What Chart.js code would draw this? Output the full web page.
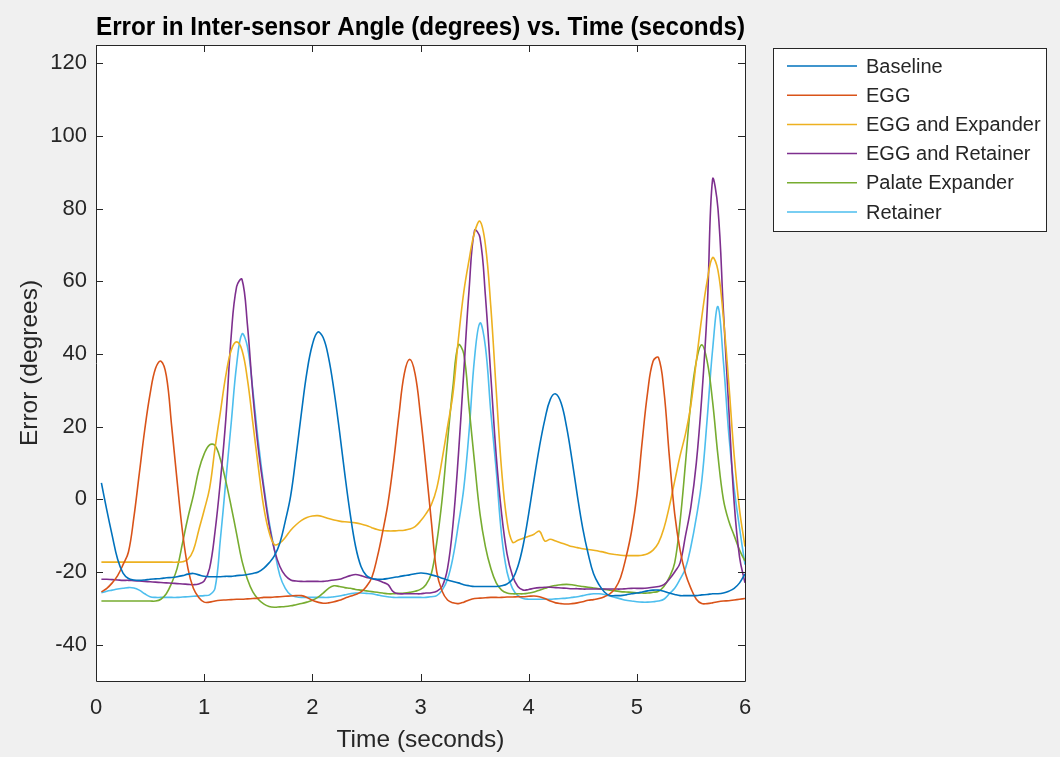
<!DOCTYPE html>
<html>
<head>
<meta charset="utf-8">
<title>Error in Inter-sensor Angle</title>
<script src="https://cdn.jsdelivr.net/npm/chart.js@4.4.1/dist/chart.umd.min.js"></script>
<style>
  html, body { margin: 0; padding: 0; background: #f0f0f0; }
  #chart { display: block; }
</style>
</head>
<body>
<canvas id="chart" width="1060" height="757"></canvas>
<script>
// sample times (seconds)
const time = [
  0.05, 0.10, 0.15, 0.20, 0.25, 0.30, 0.35, 0.40, 0.45, 0.50,
  0.55, 0.60, 0.65, 0.70, 0.75, 0.80, 0.85, 0.90, 0.95, 1.00,
  1.05, 1.10, 1.15, 1.20, 1.25, 1.30, 1.35, 1.40, 1.45, 1.50,
  1.55, 1.60, 1.65, 1.70, 1.75, 1.80, 1.85, 1.90, 1.95, 2.00,
  2.05, 2.10, 2.15, 2.20, 2.25, 2.30, 2.35, 2.40, 2.45, 2.50,
  2.55, 2.60, 2.65, 2.70, 2.75, 2.80, 2.85, 2.90, 2.95, 3.00,
  3.05, 3.10, 3.15, 3.20, 3.25, 3.30, 3.35, 3.40, 3.45, 3.50,
  3.55, 3.60, 3.65, 3.70, 3.75, 3.80, 3.85, 3.90, 3.95, 4.00,
  4.05, 4.10, 4.15, 4.20, 4.25, 4.30, 4.35, 4.40, 4.45, 4.50,
  4.55, 4.60, 4.65, 4.70, 4.75, 4.80, 4.85, 4.90, 4.95, 5.00,
  5.05, 5.10, 5.15, 5.20, 5.25, 5.30, 5.35, 5.40, 5.45, 5.50,
  5.55, 5.60, 5.65, 5.70, 5.75, 5.80, 5.85, 5.90, 5.95, 6.00
];

// error in degrees for each condition
const baseline = [
  4.5, -3, -10, -16.5, -20.3, -21.8, -22.2, -22.3, -22.2, -22,
  -21.9, -21.8, -21.6, -21.5, -21.3, -21, -20.6, -20.4, -20.8, -21.2,
  -21.3, -21.3, -21.3, -21.2, -21.2, -21, -20.9, -20.7, -20.4, -20,
  -19, -17.5, -15.5, -12, -6, 1, 12, 24, 35, 42.5,
  46, 44.5, 39, 30, 19, 7, -4, -13, -18.5, -21,
  -21.8, -22, -22, -21.8, -21.5, -21.3, -21, -20.8, -20.5, -20.3,
  -20.4, -20.8, -21.2, -21.7, -22.2, -22.6, -23, -23.5, -23.8, -24,
  -24, -24, -24, -24, -23.8, -23.3, -22, -18.5, -12.5, -4,
  5.5, 14.5, 22, 27.5, 29, 26.5, 20, 11, 1, -8,
  -15, -20.5, -23.5, -25.5, -26.5, -26.5, -26.5, -26.3, -26, -25.8,
  -25.5, -25.2, -25, -25, -25.3, -25.8, -26.2, -26.5, -26.5, -26.5,
  -26.5, -26.3, -26.2, -26, -26, -25.8, -25.3, -24.5, -23, -20.5
];
const egg = [
  -25.5, -24.5, -23, -21, -18, -14.5, -5, 7, 19, 29,
  36, 38, 34, 20, 5, -9, -19, -24.5, -27, -28.3,
  -28.3, -28, -27.8, -27.7, -27.6, -27.5, -27.5, -27.4, -27.3, -27.2,
  -27, -27, -26.9, -26.8, -26.7, -26.6, -26.5, -26.5, -27, -27.8,
  -28.3, -28.6, -28.5, -28.2, -27.8, -27.2, -26.7, -26.2, -25.5, -24,
  -21.5, -16, -9, -1, 10, 23, 34.5, 38.5, 34.5, 23,
  9, -6, -20, -25.3, -27.7, -28.5, -28.7, -28.3, -27.7, -27.3,
  -27.2, -27.1, -27, -27, -27, -26.9, -26.9, -26.8, -26.8, -26.7,
  -26.6, -26.8, -27.3, -28, -28.5, -28.7, -28.8, -28.7, -28.5, -28.2,
  -27.8, -27.6, -27.3, -26.8, -26, -24.5, -21.5, -16, -9, 1,
  16, 29.5, 38, 39, 30, 12, -4, -14, -20.5, -24.5,
  -27.5, -28.7, -28.7, -28.5, -28.2, -28, -27.9, -27.7, -27.5, -27.3
];
const eggExpander = [
  -17.3, -17.3, -17.3, -17.3, -17.3, -17.3, -17.3, -17.3, -17.3, -17.3,
  -17.3, -17.3, -17.3, -17.3, -17.3, -17.2, -16.5, -14, -8.5, -3,
  3, 14, 24, 34, 41, 43.3, 41, 33, 21, 9,
  -2, -9, -12.5, -12, -10.5, -8.5, -7, -5.8, -5, -4.6,
  -4.5, -4.8, -5.3, -5.7, -6, -6.2, -6.3, -6.5, -6.8, -7.2,
  -7.8, -8.3, -8.6, -8.7, -8.7, -8.6, -8.5, -8.2, -7.5, -6,
  -4, -1.5, 3, 11, 20, 29, 44, 57, 66, 73.5,
  76.5, 70, 53, 30, 8, -6, -11.8, -11.3, -10.7, -10.2,
  -9.6, -8.8, -11.5, -11, -11.5, -12, -12.5, -13, -13.3, -13.6,
  -13.8, -14, -14.3, -14.6, -15, -15.2, -15.4, -15.5, -15.5, -15.5,
  -15.4, -15, -14, -12, -8, -2, 5, 12, 18, 26,
  38, 50, 60, 66.5, 63, 50, 32, 12, -3, -13
];
const eggRetainer = [
  -22, -22, -22.1, -22.2, -22.3, -22.3, -22.4, -22.5, -22.6, -22.7,
  -22.8, -22.9, -23, -23.1, -23.2, -23.3, -23.4, -23.5, -23.3, -22.5,
  -19, -9, 5, 22, 45, 58.5, 60.5, 48, 29, 14,
  3, -7, -14, -18.5, -21, -22.2, -22.5, -22.6, -22.6, -22.6,
  -22.6, -22.6, -22.4, -22.2, -22, -21.5, -21, -20.7, -21, -21.5,
  -21.8, -22.2, -22.8, -23.5, -25.5, -26, -26, -26, -26, -26,
  -25.8, -25.7, -25.3, -24, -19, -7, 12, 35, 58, 74,
  72, 56, 34, 12, -4, -15, -21, -24, -25, -24.8,
  -24.5, -24.3, -24.2, -24.2, -24.3, -24.4, -24.5, -24.6, -24.6, -24.7,
  -24.7, -24.7, -24.7, -24.7, -24.7, -24.7, -24.7, -24.6, -24.5, -24.5,
  -24.5, -24.4, -24.2, -24, -23.5, -22, -20, -17.5, -10, -2,
  10, 28, 52, 88, 80, 52, 25, -1, -16, -23
];
const palateExpander = [
  -28, -28, -28, -28, -28, -28, -28, -28, -28, -28,
  -28, -27.5, -26, -23, -19, -12, -5, 1, 8, 12.5,
  15, 14.8, 11, 5, -2, -9.5, -17, -22, -25.5, -27.5,
  -28.8, -29.5, -29.7, -29.6, -29.5, -29.3, -29, -28.7, -28.3, -27.8,
  -27, -25.8, -24.5, -23.8, -24, -24.3, -24.5, -24.8, -25, -25.2,
  -25.4, -25.6, -25.8, -26, -26, -25.9, -25.8, -25.6, -25.3, -24.8,
  -23.5, -20.5, -12, 0, 16, 31, 42.5, 40, 25, 10,
  -4, -13, -19, -23, -25, -25.8, -26, -26, -26, -25.8,
  -25.5, -25, -24.5, -24, -23.7, -23.5, -23.4, -23.5, -23.8, -24,
  -24.2, -24.4, -24.6, -24.8, -25, -25.2, -25.4, -25.5, -25.6, -25.7,
  -25.8, -25.8, -25.6, -25.3, -24, -21.5, -17.5, -6, 10, 27,
  38, 42.5, 38, 27, 12, 0, -6, -10, -14, -17
];
const retainer = [
  -25.7, -25.3, -25, -24.7, -24.5, -24.3, -24.4, -25, -26, -26.8,
  -27, -27, -27, -27, -27, -26.9, -26.8, -26.7, -26.6, -26.5,
  -26.3, -24.5, -11, 5, 21, 37, 45.5, 42, 30, 16,
  4, -6, -14, -21, -24.5, -26.3, -26.8, -27, -27, -27,
  -27, -27, -27, -26.8, -26.6, -26.3, -26, -25.8, -25.8, -25.9,
  -26, -26.3, -26.6, -26.8, -27, -27, -27, -27, -27, -27,
  -27, -26.8, -26.5, -25, -22, -16, -7, 3, 19, 39,
  48.5, 42, 24, 8, -10, -20, -24.5, -26.5, -27.3, -27.5,
  -27.5, -27.5, -27.5, -27.5, -27.4, -27.3, -27.2, -27, -26.8, -26.5,
  -26.2, -26, -26, -26.2, -26.6, -27, -27.4, -27.8, -28, -28.2,
  -28.3, -28.3, -28.2, -28, -27.5, -26, -24.5, -22, -19, -13,
  -5, 5, 22, 41, 53, 38, 18, 3, -8, -18
];

const seriesNames = ["Baseline", "EGG", "EGG and Expander", "EGG and Retainer", "Palate Expander", "Retainer"];
const seriesValues = [baseline, egg, eggExpander, eggRetainer, palateExpander, retainer];
const seriesColors = ["#0072BD", "#D95319", "#EDB120", "#7E2F8E", "#77AC30", "#4DBEEE"];

const xTicks = [0, 1, 2, 3, 4, 5, 6];
const yTicks = [-40, -20, 0, 20, 40, 60, 80, 100, 120];

const FONT = "'Liberation Sans', Arial, Helvetica, sans-serif";
const AXIS_COLOR = "#262626";

// grey figure, white axes, boxed frame with inward ticks, boxed legend
const axesBox = {
    id: "axesBox",
    beforeDraw(chart) {
        const { ctx, chartArea: a } = chart;
        ctx.save();
        ctx.fillStyle = "#f0f0f0";
        ctx.fillRect(0, 0, chart.width, chart.height);
        ctx.fillStyle = "#ffffff";
        ctx.fillRect(a.left, a.top, a.right - a.left, a.bottom - a.top);
        ctx.restore();
    },
    afterDraw(chart) {
        const { ctx, chartArea: a, scales } = chart;
        const tick = 7;
        ctx.save();
        ctx.strokeStyle = AXIS_COLOR;
        ctx.lineWidth = 1;
        ctx.beginPath();
        ctx.rect(Math.round(a.left) + 0.5, Math.round(a.top) + 0.5,
                 Math.round(a.right - a.left), Math.round(a.bottom - a.top));
        xTicks.forEach(v => {
            const x = Math.round(scales.x.getPixelForValue(v)) + 0.5;
            ctx.moveTo(x, a.bottom); ctx.lineTo(x, a.bottom - tick);
            ctx.moveTo(x, a.top); ctx.lineTo(x, a.top + tick);
        });
        yTicks.forEach(v => {
            const y = Math.round(scales.y.getPixelForValue(v)) + 0.5;
            ctx.moveTo(a.left, y); ctx.lineTo(a.left + tick, y);
            ctx.moveTo(a.right, y); ctx.lineTo(a.right - tick, y);
        });
        ctx.stroke();

        // legend
        const lx = 773.5, ly = 48.5, lw = 273, lh = 183;
        ctx.fillStyle = "#ffffff";
        ctx.fillRect(lx, ly, lw, lh);
        ctx.strokeRect(lx, ly, lw, lh);
        ctx.font = "20px " + FONT;
        ctx.textBaseline = "middle";
        chart.data.datasets.forEach((ds, i) => {
            const y = 66 + i * 29.2;
            ctx.strokeStyle = ds.borderColor;
            ctx.lineWidth = 1.5;
            ctx.beginPath();
            ctx.moveTo(787, y); ctx.lineTo(857, y);
            ctx.stroke();
            ctx.fillStyle = AXIS_COLOR;
            ctx.fillText(ds.label, 866, y + 1);
        });
        ctx.restore();
    }
};

const datasets = seriesNames.map((name, i) => ({
    label: name,
    data: time.map((t, k) => ({ x: t, y: seriesValues[i][k] })),
    borderColor: seriesColors[i],
    borderWidth: 1.6,
    pointRadius: 0,
    fill: false,
    tension: 0.4
}));

new Chart(document.getElementById("chart"), {
    type: "line",
    data: { datasets },
    options: {
        responsive: false,
        animation: false,
        devicePixelRatio: 1,
        layout: { padding: { left: 0, right: 315, top: 0, bottom: 0 } },
        plugins: {
            legend: { display: false },
            tooltip: { enabled: false },
            title: {
                display: true,
                fullSize: false,
                text: "Error in Inter-sensor Angle (degrees) vs. Time (seconds)",
                color: "#000000",
                font: { family: FONT, size: 25.5, weight: "bold" },
                padding: { top: 12.5, bottom: 1.9 }
            }
        },
        scales: {
            x: {
                type: "linear",
                min: 0,
                max: 6,
                afterBuildTicks: s => { s.ticks = xTicks.map(v => ({ value: v })); },
                afterFit: s => { s.height = 76; },
                grid: { display: false, drawTicks: false },
                border: { display: false },
                ticks: {
                    color: AXIS_COLOR,
                    font: { family: FONT, size: 22 },
                    padding: 14,
                    maxRotation: 0,
                    autoSkip: false,
                    callback: v => String(v)
                },
                title: {
                    display: true,
                    text: "Time (seconds)",
                    color: AXIS_COLOR,
                    font: { family: FONT, size: 24.5 },
                    padding: { top: 0, bottom: 2 }
                }
            },
            y: {
                min: -50,
                max: 125,
                afterBuildTicks: s => { s.ticks = yTicks.map(v => ({ value: v })); },
                afterFit: s => { s.width = 96; },
                grid: { display: false, drawTicks: false },
                border: { display: false },
                ticks: {
                    color: AXIS_COLOR,
                    font: { family: FONT, size: 22 },
                    padding: 9,
                    autoSkip: false,
                    callback: v => String(v)
                },
                title: {
                    display: true,
                    text: "Error (degrees)",
                    color: AXIS_COLOR,
                    font: { family: FONT, size: 24.5 },
                    padding: { top: 16, bottom: 0 }
                }
            }
        }
    },
    plugins: [axesBox]
});
</script>
</body>
</html>
